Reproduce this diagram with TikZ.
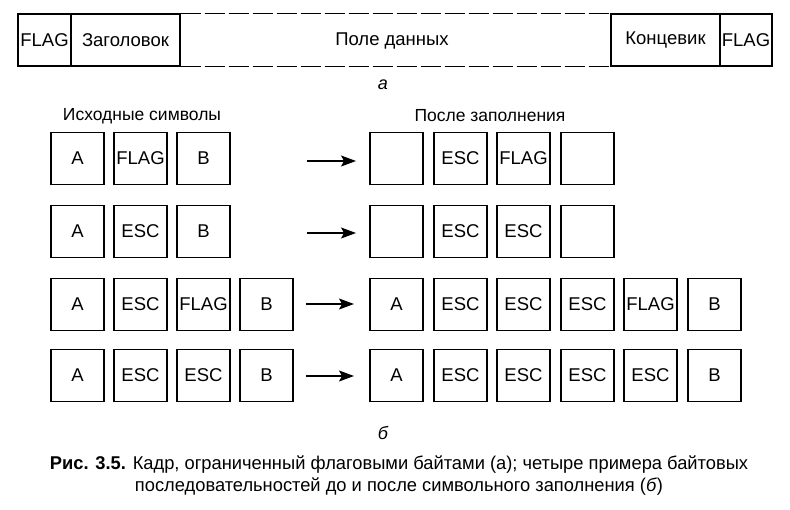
\documentclass[tikz,border=0pt]{standalone}
\usepackage{fontspec}
\setmainfont{Liberation Sans}
\usetikzlibrary{arrows.meta}
\tikzset{
  base/.style={font=\fontsize{18.5pt}{22pt}\selectfont, text=black},
  cell/.style={base, draw=black, line width=1.1pt, minimum width=53pt, minimum height=52pt, inner sep=0pt},
  fbox/.style={base, draw=black, line width=1.1pt, minimum height=52pt, inner sep=0pt},
  dashline/.style={draw=black, line width=1.1pt, dash pattern=on 20pt off 4pt},
  arr/.style={draw=black, line width=1.1pt, -{Stealth[length=15pt, width=11pt, inset=3pt]}},
  lab/.style={base, inner sep=0pt},
  head/.style={lab, font=\fontsize{17.5pt}{21pt}\selectfont}
}
\begin{document}
\begin{tikzpicture}[x=1pt, y=-1pt]
\useasboundingbox (0,0) rectangle (790,509);
% frame (a)
\node[fbox, minimum width=53pt] (f1) at (44.5,40) {FLAG};
\node[fbox, minimum width=109pt] (zag) at (125.5,40) {Заголовок};
\node[fbox, minimum width=109pt] (konc) at (665.5,40) {Концевик};
\node[fbox, minimum width=52pt] (f2) at (746,40) {FLAG};
\node[lab] (pole) at (392,41) {Поле данных};
\draw[dashline] (zag.north east) -- (konc.north west);
\draw[dashline] (zag.south east) -- (konc.south west);
\node[lab, font=\fontsize{18pt}{20pt}\selectfont\itshape] (la) at (383,85) {а};
% headings
\node[head] (h1) at (142,116) {Исходные символы};
\node[head] (h2) at (490,116) {После заполнения};
% row 1
\node[cell] (a1) at (77.5,158.5) {A};
\node[cell] (a2) at (140.5,158.5) {FLAG};
\node[cell] (a3) at (203.5,158.5) {B};
\node[cell] (b1) at (396.5,158.5) {};
\node[cell] (b2) at (460.5,158.5) {ESC};
\node[cell] (b3) at (523.5,158.5) {FLAG};
\node[cell] (b4) at (587.5,158.5) {};
% row 2
\node[cell] (c1) at (77.5,231.5) {A};
\node[cell] (c2) at (140.5,231.5) {ESC};
\node[cell] (c3) at (203.5,231.5) {B};
\node[cell] (d1) at (396.5,231.5) {};
\node[cell] (d2) at (460.5,231.5) {ESC};
\node[cell] (d3) at (523.5,231.5) {ESC};
\node[cell] (d4) at (587.5,231.5) {};
% row 3
\node[cell] (g1) at (77.5,304.5) {A};
\node[cell] (g2) at (140.5,304.5) {ESC};
\node[cell] (g3) at (203.5,304.5) {FLAG};
\node[cell] (g4) at (266.5,304.5) {B};
\node[cell] (k1) at (396.5,304.5) {A};
\node[cell] (k2) at (460.5,304.5) {ESC};
\node[cell] (k3) at (523.5,304.5) {ESC};
\node[cell] (k4) at (587.5,304.5) {ESC};
\node[cell] (k5) at (650.5,304.5) {FLAG};
\node[cell] (k6) at (714.5,304.5) {B};
% row 4
\node[cell] (m1) at (77.5,375.5) {A};
\node[cell] (m2) at (140.5,375.5) {ESC};
\node[cell] (m3) at (203.5,375.5) {ESC};
\node[cell] (m4) at (266.5,375.5) {B};
\node[cell] (n1) at (396.5,375.5) {A};
\node[cell] (n2) at (460.5,375.5) {ESC};
\node[cell] (n3) at (523.5,375.5) {ESC};
\node[cell] (n4) at (587.5,375.5) {ESC};
\node[cell] (n5) at (650.5,375.5) {ESC};
\node[cell] (n6) at (714.5,375.5) {B};
% arrows
\coordinate (s1) at (307,161);
\coordinate (s2) at (307,233);
\coordinate (s3) at (306,304);
\coordinate (s4) at (306,376);
\coordinate (t1) at (356,161);
\coordinate (t2) at (356,233);
\coordinate (t3) at (354,304);
\coordinate (t4) at (354,376);
\draw[arr] (s1) -- (t1);
\draw[arr] (s2) -- (t2);
\draw[arr] (s3) -- (t3);
\draw[arr] (s4) -- (t4);
% b label
\node[lab, font=\fontsize{18pt}{20pt}\selectfont\itshape] (lb) at (383,433) {б};
% caption
\node[lab] (cap1) at (399,465) {\resizebox{698pt}{\height}{\textbf{Рис. 3.5.} Кадр, ограниченный флаговыми байтами (а); четыре примера байтовых}};
\node[lab] (cap2) at (399,487) {\resizebox{528pt}{\height}{последовательностей до и после символьного заполнения (\textit{б})}};
\end{tikzpicture}
\end{document}
